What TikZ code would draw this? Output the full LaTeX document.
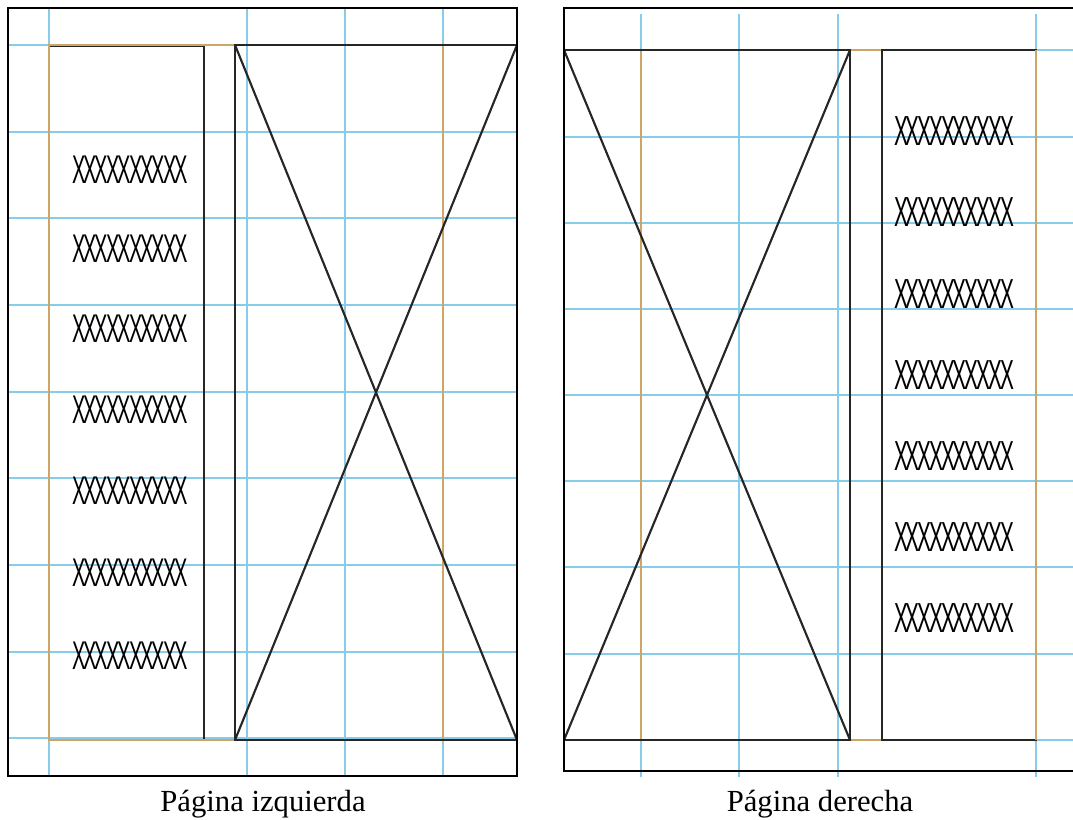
\documentclass[tikz,border=0pt]{standalone}
\usepackage{fontspec}
\setmainfont{Liberation Serif}
\newfontfamily\xfont[LetterSpace=-10]{Liberation Sans}
\definecolor{guide}{RGB}{135,205,235}
\definecolor{margin}{RGB}{205,165,100}

\begin{document}
\begin{tikzpicture}[x=0.75pt, y=-0.75pt,
		guideline/.style={guide, line width=0.8pt},
		marginline/.style={margin, line width=1.2pt},
		pageline/.style={black, line width=1.8pt},
		boxline/.style={black!85, line width=1.6pt},
		filler/.style={inner sep=0pt, font=\xfont\fontsize{30}{30}\selectfont},
		caption/.style={inner sep=0pt, anchor=base, font=\fontsize{23}{28}\selectfont}]
		
		\useasboundingbox (0,0) rectangle (1073,819);
		\clip (0,0) rectangle (1073,819);
		
		% left page: guides and margins
		\foreach \gx in {49,247,345,443} \draw[guideline] (\gx,8) -- (\gx,776);
		\foreach \gy in {45,132,218,305,392,478,565,652,738} \draw[guideline] (8,\gy) -- (517,\gy);
		\draw[boxline] (49,46) rectangle (204,740);
		\draw[marginline] (49,45) rectangle (443,740);
		
		% left page: picture
		\draw[boxline] (235,45) rectangle (517,740);
		\draw[boxline] (235,45) -- (517,740) (235,740) -- (517,45);
		\draw[pageline] (8,8) rectangle (517,776);
		
		% left page: text
		\foreach \ty [count=\i] in {170,249,329,410,491,573,656}
			\node[filler] (izq\i) at (130,\ty) {\scalebox{0.5}[1]{XXXXXXXXXX}};
		\node[caption] (izq) at (263,811) {Página izquierda};
		
		% right page: guides and margins
		\foreach \gx in {641,739,838,1036} \draw[guideline] (\gx,14) -- (\gx,777);
		\foreach \gy in {50,137,223,309,395,481,567,654,740} \draw[guideline] (564,\gy) -- (1080,\gy);
		\draw[marginline] (641,50) rectangle (1036,740);
		
		% right page: picture
		\draw[boxline] (564,50) rectangle (850,740);
		\draw[boxline] (564,50) -- (850,740) (564,740) -- (850,50);
		\draw[boxline] (882,50) rectangle (1036,740);
		\draw[marginline] (1036,50) -- (1036,740);
		\draw[pageline] (564,8) rectangle (1085,771);
		
		% right page: text
		\foreach \ty [count=\i] in {131,212,294,375,456,537,618}
			\node[filler] (der\i) at (954,\ty) {\scalebox{0.52}[1.05]{XXXXXXXXXX}};
		\node[caption] (der) at (820,811) {Página derecha};
		
	\end{tikzpicture}
\end{document}
